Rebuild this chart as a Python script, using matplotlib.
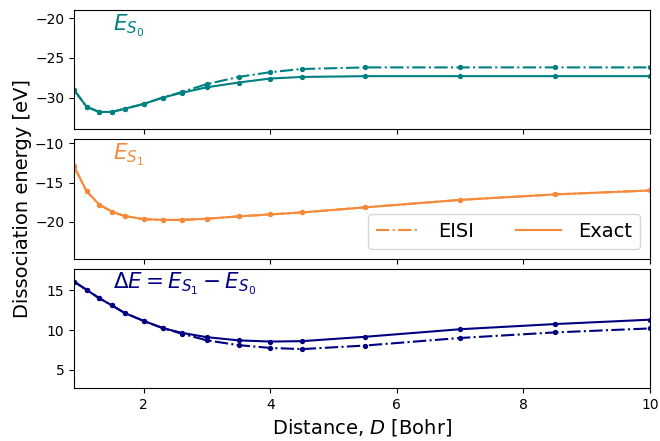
import matplotlib
matplotlib.use("Agg")
import matplotlib.pyplot as plt

# Data
distance = [0.9, 1.1, 1.3, 1.5, 1.7, 2.0, 2.3, 2.6, 3.0, 3.5, 4.0, 4.5, 5.5, 7.0, 8.5, 10.0]

es0_exact = [-29.0, -31.15, -31.8, -31.8, -31.4, -30.8, -30.0, -29.4, -28.7, -28.1, -27.6, -27.4, -27.3, -27.3, -27.3, -27.3]
es0_eisi = [-29.0, -31.15, -31.8, -31.8, -31.4, -30.8, -30.0, -29.3, -28.3, -27.4, -26.8, -26.4, -26.2, -26.2, -26.2, -26.2]

es1_exact = [-12.9, -16.1, -17.8, -18.7, -19.25, -19.65, -19.75, -19.75, -19.6, -19.3, -19.05, -18.8, -18.15, -17.2, -16.5, -16.0]
es1_eisi = [-12.9, -16.1, -17.8, -18.7, -19.25, -19.65, -19.75, -19.75, -19.6, -19.3, -19.05, -18.8, -18.15, -17.2, -16.5, -16.0]

de_exact = [16.1, 15.05, 14.0, 13.1, 12.15, 11.15, 10.25, 9.65, 9.1, 8.7, 8.55, 8.6, 9.15, 10.1, 10.75, 11.3]
de_eisi = [16.1, 15.05, 14.0, 13.1, 12.15, 11.15, 10.25, 9.55, 8.7, 8.1, 7.75, 7.6, 8.05, 9.0, 9.7, 10.2]

labels = ["EISI", "Exact"]
panel_texts = [r"$E_{S_0}$", r"$E_{S_1}$", r"$\Delta E = E_{S_1} - E_{S_0}$"]
colors = ["#008080", "#f58a3a", "#000080"]
ylims = [(-34.0, -19.0), (-24.7, -9.5), (2.7, 17.7)]
yticks = [[-30, -25, -20], [-20, -15, -10], [5, 10, 15]]

fig, axes = plt.subplots(3, 1, figsize=(6.6, 4.41), dpi=100, sharex=True,
                         gridspec_kw=dict(hspace=0.084))
fig.subplots_adjust(left=0.112, right=0.985, top=0.977, bottom=0.12)

series = [(es0_eisi, es0_exact), (es1_eisi, es1_exact), (de_eisi, de_exact)]
for ax, (eisi, exact), c, txt, yl, yt in zip(axes, series, colors, panel_texts, ylims, yticks):
    ax.plot(distance, eisi, linestyle="-.", color=c, lw=1.5, label=labels[0])
    ax.plot(distance, exact, linestyle="-", color=c, lw=1.5, label=labels[1])
    ax.plot(distance, eisi, linestyle="none", color=c, marker="o", markersize=2.8)
    ax.plot(distance, exact, linestyle="none", color=c, marker="o", markersize=2.8)
    ax.text(0.068, 0.87, txt, transform=ax.transAxes, color=c, fontsize=15.5, va="center", ha="left")
    ax.set_ylim(*yl)
    ax.set_yticks(yt)
    ax.tick_params(labelsize=10)

axes[1].legend(loc="lower right", ncol=2, fontsize=14, handlelength=2.3, handletextpad=0.9,
               columnspacing=2.2, borderaxespad=0.5)
axes[2].set_xlim(0.9, 10.0)
axes[2].set_xticks([2, 4, 6, 8, 10])
axes[2].set_xlabel(r"Distance, $D$ [Bohr]", fontsize=14)
fig.text(0.02, 0.55, "Dissociation energy [eV]", rotation=90, fontsize=14, va="center", ha="left")

fig.savefig("out.png", dpi=100)
